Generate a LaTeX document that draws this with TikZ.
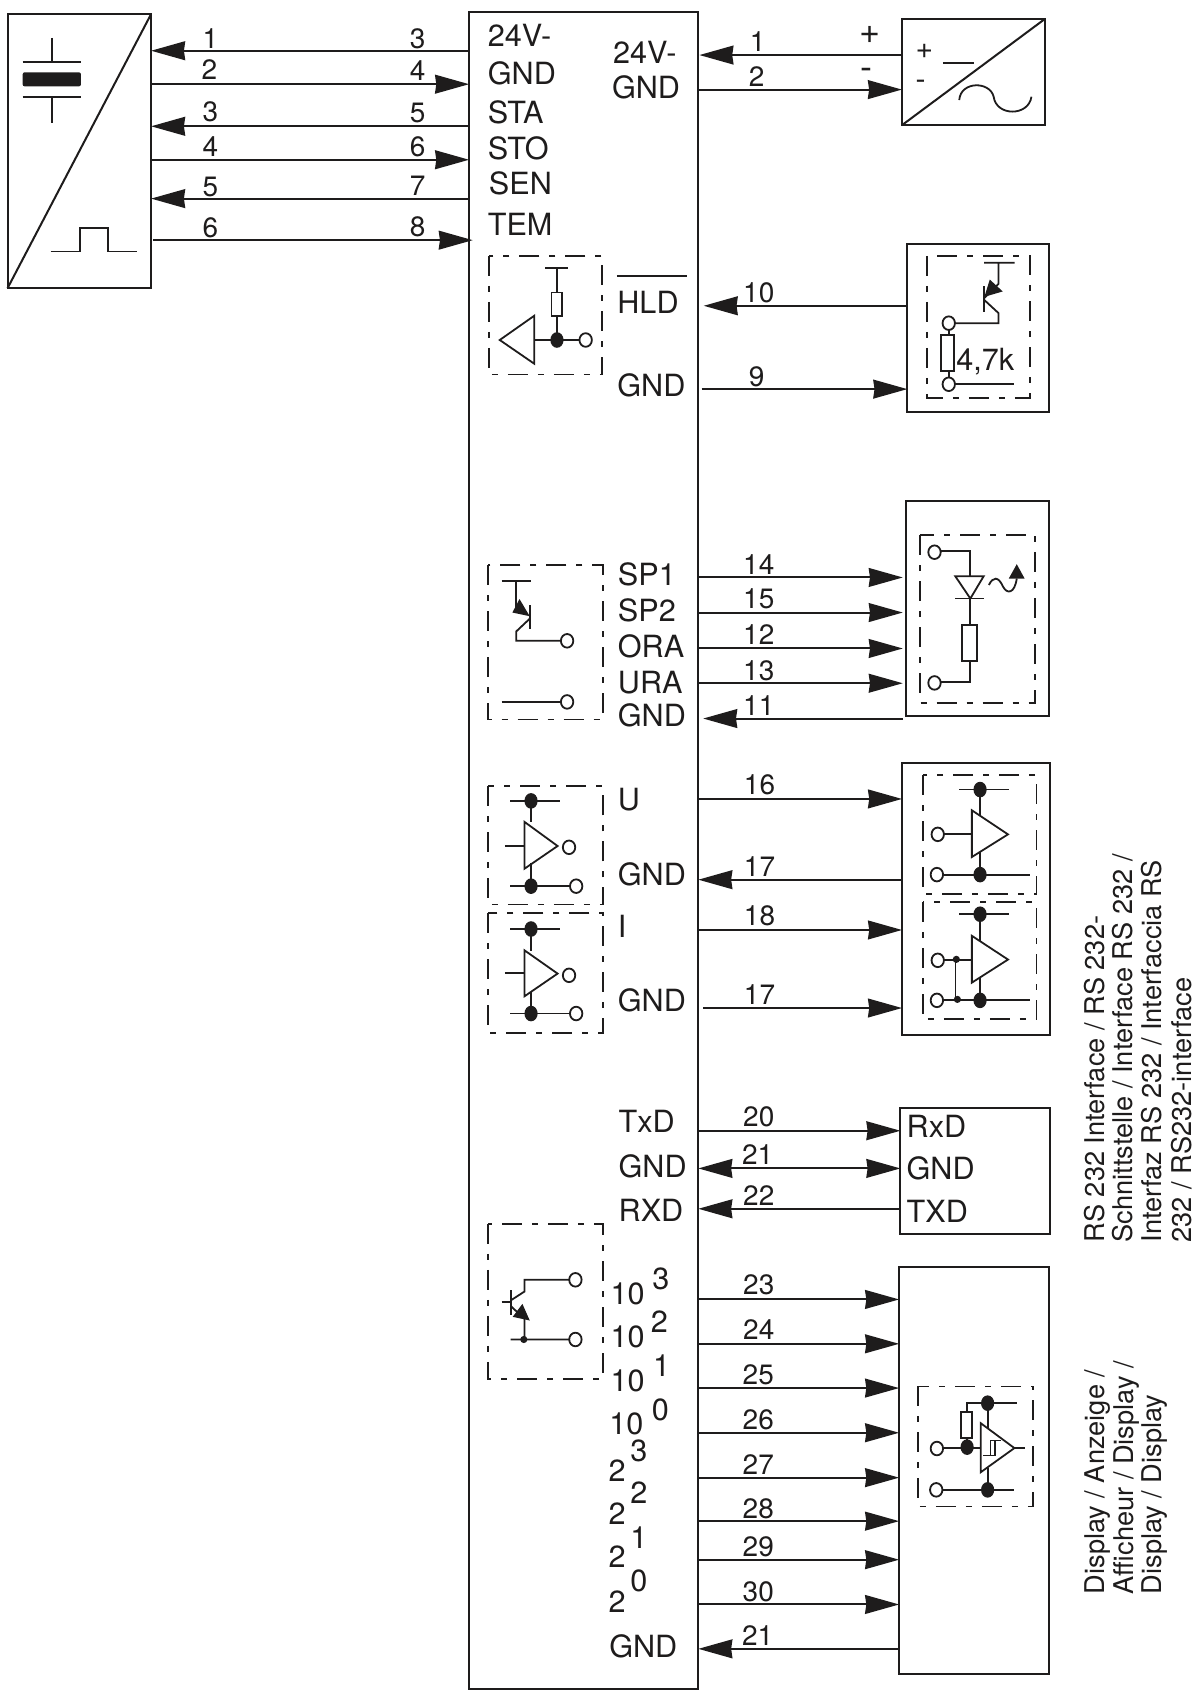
\documentclass[tikz,border=0pt]{standalone}
\usepackage{fontspec}
\setmainfont{TeX Gyre Heros}
\usetikzlibrary{arrows.meta}
\definecolor{ink}{HTML}{1E1C1C}
\newcommand\lab[4]{\node[lbl] (#1) at (#2,#3) {#4};}
\newcommand\wnum[4]{\node[numl] (#1) at (#2,#3) {#4};}
\newcommand\rlab[4]{\node[rotl] (#1) at (#2,#3) {#4};}
\newcommand\wire[4][]{\draw[wire,#1] (#2 |- 0,#4) -- (#3 |- 0,#4);}
\newcommand\bx[5]{\pgfmathsetmacro\bw{(#4-#2)*0.5397}\pgfmathsetmacro\bh{(#5-#3)*0.5397}%
  \node[boxn,minimum width=\bw pt,minimum height=\bh pt] (#1) at ({(#2+#4)/2},{(#3+#5)/2}) {};}
\newcommand\jdot[2]{\fill[ink] (#1,#2) ellipse [x radius=3.3pt,y radius=3.9pt];}
\newcommand\jsmall[2]{\fill[ink] (#1,#2) circle [radius=1.8pt];}
\newcommand\jring[2]{\draw[sym,fill=white] (#1,#2) ellipse [x radius=3.1pt,y radius=3.4pt];}
\newcommand\res[4]{\draw[sym,fill=white] (#1,#2) rectangle (#3,#4);}
\tikzset{
  lbl/.style={anchor=base west,inner sep=0pt,outer sep=0pt,yshift=-0.8pt,text=ink,font=\fontsize{15.3}{18}\selectfont},
  numl/.style={anchor=base,inner sep=0pt,outer sep=0pt,yshift=-0.5pt,text=ink,font=\fontsize{14}{16}\selectfont},
  signl/.style={anchor=base,inner sep=0pt,outer sep=0pt,text=ink,font=\fontsize{18}{20}\selectfont},
  signs/.style={anchor=base,inner sep=0pt,outer sep=0pt,text=ink,font=\fontsize{15}{17}\selectfont},
  rotl/.style={anchor=base west,rotate=90,inner sep=0pt,outer sep=0pt,text=ink,font=\fontsize{13.6}{16}\selectfont},
  boxn/.style={draw=ink,line width=1pt,inner sep=0pt,outer sep=0pt},
  wire/.style={draw=ink,line width=1pt,-{Stealth[length=17pt,width=9.4pt,inset=0.6pt]}},
  wirebi/.style={{Stealth[length=17pt,width=9.4pt,inset=0.6pt]}-{Stealth[length=17pt,width=9.4pt,inset=0.6pt]}},
  sym/.style={draw=ink,line width=0.9pt},
  dbox/.style={draw=ink,line width=0.9pt,dash pattern=on 10pt off 5pt on 3pt off 5pt},
}
\begin{document}
\begin{tikzpicture}[x=0.5397pt,y=-0.5397pt]
\useasboundingbox (0,0) rectangle (1108,1567.6);
% ---- boxes
\bx{src}{7}{13}{140}{267}
\bx{main}{434.6}{11}{647}{1564.5}
\bx{psu}{835.6}{17.6}{968}{116}
\bx{hold}{840.6}{226.4}{972}{381.5}
\bx{led}{839.7}{464}{972}{663}
\bx{ana}{835.7}{706.8}{973}{958.6}
\bx{rsb}{834.2}{1026.6}{973}{1143}
\bx{disp}{833}{1174}{971.5}{1550.8}
% ---- source symbol
\draw[sym,line width=1pt] (src.south west) -- (src.north east);
\draw[sym] (48,35) -- (48,57.5) (21,57.5) -- (75,57.5) (21,90) -- (75,90) (48,90) -- (48,114);
\fill[ink,rounded corners=1pt] (21,67) rectangle (75,80);
\draw[sym] (47,233) -- (74,233) -- (74,211) -- (100,211) -- (100,233) -- (127,233);
% ---- left wires
\wire{main.west}{src.east}{47}
\wire{src.east}{main.west}{78}
\wire{main.west}{src.east}{117}
\wire{src.east}{main.west}{148}
\wire{main.west}{src.east}{184}
\wire{142,0}{438,0}{222.5}
\wnum{na1}{195}{44}{1}\wnum{na2}{194}{73}{2}\wnum{na3}{195}{112}{3}\wnum{na4}{195}{143.6}{4}\wnum{na5}{195}{180.7}{5}\wnum{na6}{195}{218.7}{6}
\wnum{nb3}{387}{44}{3}\wnum{nb4}{387}{74}{4}\wnum{nb5}{387}{113}{5}\wnum{nb6}{387}{143.6}{6}\wnum{nb7}{387}{180}{7}\wnum{nb8}{387}{218}{8}
\lab{l24}{452}{42}{24V-}\lab{lg1}{452}{76.6}{GND}\lab{lsta}{452}{113}{STA}\lab{lsto}{452}{146}{STO}\lab{lsen}{453}{178.6}{SEN}\lab{ltem}{452}{217}{TEM}
% ---- power
\draw[sym,line width=1pt] (psu.south west) -- (psu.north east);
\wire{psu.west}{648,0}{51}
\wire{main.east}{psu.west}{83}
\wnum{np1}{702}{47}{1}\wnum{np2}{701}{79.4}{2}
\lab{lp24}{568}{57}{24V-}\lab{lpg}{567}{90}{GND}
\node[signl] (pplus) at (806,40) {+};
\node[signl] (pminus) at (803,74) {-};
\node[signs] (iplus) at (856.5,54.5) {+};
\node[signs] (iminus) at (853,83) {-};
\draw[sym] (873.5,58) -- (902.5,58);
\draw[sym] (888.7,92.7) .. controls (890,75) and (917,75) .. (920.6,89.6) .. controls (923,108) and (953,108) .. (955.6,89.6);
% ---- hold input
\draw[dbox] (452.7,237) rectangle (558,347);
\draw[sym] (505,248) -- (526,248) (516,248) -- (516,315);
\res{511}{271}{521}{292.5}
\draw[sym] (495,315) -- (537,315);
\draw[sym] (463,315) -- (495,292.5) -- (495,337) -- cycle;
\jdot{516}{315}\jring{542.6}{315}
\draw[draw=ink,line width=1pt] (571.5,256) -- (636.7,256);
\lab{lhld}{572}{289}{HLD}\lab{lg2}{572}{366}{GND}
\wire{hold.west}{652,0}{283.3}
\wire{650,0}{hold.west}{360.5}
\wnum{n10}{703}{279}{10}\wnum{n9}{701}{357}{9}
\draw[dbox] (858.6,237) rectangle (954,368.5);
\draw[sym] (911.7,243.4) -- (940,243.4) (925,243.4) -- (925,263) -- (912,276);
\draw[sym] (911.7,265) -- (911.7,289.5);
\fill[ink] (912,275) -- (917,259) -- (929,270) -- cycle;
\draw[sym] (912,278) -- (925,290) -- (925,299.4) -- (885,299.4);
\draw[sym] (879,305) -- (879,350) (885,355.6) -- (939,355.6);
\res{871.7}{310.5}{883.8}{344}
\jring{879}{299.4}\jring{879}{356}
\lab{lr}{886}{342}{4,7k}
% ---- switching outputs
\draw[dbox] (452.2,523.6) rectangle (558.5,666.6);
\draw[sym] (464.7,538.4) -- (492,538.4) (478.3,538.4) -- (478.3,562);
\draw[sym] (491.2,560.7) -- (491.2,583.2);
\fill[ink] (490.8,570.9) -- (474.7,567.5) -- (481.3,555) -- cycle;
\draw[sym] (491,573) -- (478.3,585) -- (478.3,593.7) -- (519,593.7);
\draw[sym] (464.7,650.3) -- (519,650.3);
\jring{525.4}{593.7}\jring{525.4}{650.3}
\lab{lsp1}{572.5}{540.6}{SP1}\lab{lsp2}{572.5}{574.6}{SP2}\lab{lora}{572.5}{608}{ORA}\lab{lura}{572.5}{641}{URA}\lab{lg3}{572.5}{672}{GND}
\wire{main.east}{836.4,0}{535}
\wire{main.east}{836.4,0}{567.5}
\wire{main.east}{836.4,0}{600.8}
\wire{main.east}{836.4,0}{633}
\wire{836.4,0}{651.5,0}{665.7}
\wnum{n14}{703}{531.3}{14}\wnum{n15}{703}{563}{15}\wnum{n12}{703}{596}{12}\wnum{n13}{703}{629.6}{13}\wnum{n11}{703}{661.7}{11}
\draw[dbox] (852.6,495.8) rectangle (959.2,651.2);
\draw[sym] (872,510.6) -- (899,510.6) -- (899,533.8) (899,554.5) -- (899,579) (899,612.6) -- (899,631.7) -- (872,631.7);
\draw[sym] (885,533.8) -- (911.4,533.8) -- (899,554.5) -- cycle;
\draw[sym] (885,554.5) -- (911.4,554.5);
\res{891.6}{579}{904.8}{612.6}
\jring{865.8}{511.6}\jring{865.8}{632.7}
\draw[sym] (916.2,542) .. controls (920,534) and (925,534) .. (929,543) .. controls (933,551) and (940,550) .. (942,536);
\fill[ink] (942,522.7) -- (949.3,536) -- (934.6,536) -- cycle;
% ---- analog left
\draw[dbox] (452.2,728.5) rectangle (558.5,838);
\draw[sym] (472.5,742) -- (519,742) (492,742) -- (492,762);
\draw[sym] (486,761.5) -- (516.6,783.8) -- (486,804.8) -- cycle;
\draw[sym] (467.7,784) -- (486,784) (492,800) -- (492,821) (472.5,821) -- (529,821);
\jdot{492}{742}\jdot{492}{821}\jring{527.2}{785}\jring{533.8}{821}
\draw[dbox] (452.2,845.9) rectangle (558.5,957);
\draw[sym] (472.5,860.7) -- (519,860.7) (492,860.7) -- (492,881);
\draw[sym] (486,880.5) -- (516.6,902) -- (486,923) -- cycle;
\draw[sym] (467.7,901.5) -- (486,901.5) (492,919) -- (492,939) (472.5,939) -- (529,939);
\jdot{492}{860.7}\jdot{492}{939}\jring{527.2}{903.6}\jring{533.8}{939}
\lab{lu}{572.5}{749}{U}\lab{lg4}{572.5}{818.7}{GND}\lab{li}{572.5}{867.5}{I}\lab{lg5}{572.5}{936}{GND}
\wire{main.east}{ana.west}{740.2}
\wire{ana.west}{main.east}{815}
\wire{main.east}{ana.west}{861.6}
\wire{651.5,0}{ana.west}{933.9}
\wnum{n16}{703.7}{735}{16}\wnum{n17}{703.7}{811.3}{17}\wnum{n18}{703.7}{856.7}{18}\wnum{n17b}{703.7}{929.9}{17}
% ---- analog right
\draw[dbox] (854.8,718.3) rectangle (960.3,827.9);
\draw[sym] (888.6,731.5) -- (935,731.5) (908,731.5) -- (908,756);
\draw[sym] (900.4,750.7) -- (933.9,773) -- (900.4,794) -- cycle;
\draw[sym] (874,773) -- (900.4,773) (908,789) -- (908,810.3) (874,810.3) -- (954,810.3);
\jdot{908}{731.5}\jdot{908}{810.3}\jring{868.8}{773}\jring{868}{810.3}
\draw[dbox] (854.8,836) rectangle (960.3,944.1);
\draw[sym] (888.6,847) -- (935,847) (908,847) -- (908,872);
\draw[sym] (900.4,867) -- (933.9,889) -- (900.4,910.4) -- cycle;
\draw[sym] (874,889.7) -- (900.4,889.7) (908,905) -- (908,926.8) (874,926.8) -- (954,926.8);
\draw[sym] (885.3,888.8) -- (885.3,925.9);
\jsmall{886}{888.8}\jsmall{887}{925.9}
\jdot{908}{847}\jdot{908}{926.8}\jring{868.8}{889.7}\jring{868}{926.8}
% ---- RS232
\lab{ltx}{573.2}{1048}{TxD}\lab{lg6}{573.2}{1089}{GND}\lab{lrx}{573.2}{1130}{RXD}
\wire{main.east}{rsb.west}{1047.6}
\wire[wirebi]{main.east}{rsb.west}{1082.5}
\wire{rsb.west}{main.east}{1119.9}
\wnum{n20}{703}{1043}{20}\wnum{n21}{702}{1078}{21}\wnum{n22}{703}{1116}{22}
\lab{rrx}{840}{1052}{RxD}\lab{rg}{840}{1091.5}{GND}\lab{rtx}{840}{1131.3}{TXD}
% ---- BCD outputs
\draw[dbox] (452.2,1133.8) rectangle (558.5,1277.4);
\draw[sym] (527,1185.7) -- (486,1185.7) -- (486,1196.5) -- (473.2,1204.8);
\draw[sym] (473.2,1195.5) -- (473.2,1218.7) (464.7,1206.4) -- (473.2,1206.4);
\draw[sym] (473.2,1210) -- (486,1222) -- (486,1241) (473,1241) -- (527,1241);
\fill[ink] (490.8,1223.4) -- (475,1220) -- (484,1208) -- cycle;
\jsmall{485.3}{1241}\jring{533.1}{1185.7}\jring{533.1}{1241}
\lab{d3}{565.8}{1207}{10}\lab{s3}{604.4}{1193}{3}
\lab{d2}{565.8}{1247}{10}\lab{s2}{603}{1233}{2}
\lab{d1}{565.8}{1287.3}{10}\lab{s1}{605}{1274}{1}
\lab{d0}{564.5}{1327.5}{10}\lab{s0}{604}{1314.5}{0}
\lab{b3}{563.8}{1370.7}{2}\lab{t3}{584}{1352.5}{3}
\lab{b2}{563.8}{1410.8}{2}\lab{t2}{584}{1391.7}{2}
\lab{b1}{563.8}{1450.4}{2}\lab{t1}{584}{1433}{1}
\lab{b0}{563.8}{1492}{2}\lab{t0}{584}{1473}{0}
\lab{lg7}{564.5}{1533.8}{GND}
\wire{main.east}{disp.west}{1203.9}
\wire{main.east}{disp.west}{1245}
\wire{main.east}{disp.west}{1286}
\wire{main.east}{disp.west}{1327.4}
\wire{main.east}{disp.west}{1369}
\wire{main.east}{disp.west}{1409.3}
\wire{main.east}{disp.west}{1445}
\wire{main.east}{disp.west}{1486.5}
\wire{disp.west}{main.east}{1527.6}
\wnum{n23}{703}{1198.6}{23}\wnum{n24}{703}{1240.4}{24}\wnum{n25}{702.5}{1282}{25}\wnum{n26}{702.5}{1323}{26}\wnum{n27}{702.5}{1364.8}{27}\wnum{n28}{702.5}{1405.6}{28}\wnum{n29}{702.5}{1441}{29}\wnum{n30}{702.5}{1482.8}{30}\wnum{n21b}{702}{1523.6}{21}
% ---- display symbol
\draw[dbox] (850.5,1284.5) rectangle (957.4,1395.7);
\draw[sym] (896,1308) -- (896,1300) -- (942,1300) (896,1332.4) -- (896,1340.7) (874,1341.6) -- (908.6,1341.6) (939.8,1341.6) -- (949.8,1341.6);
\draw[sym] (915,1300) -- (915,1323) (915,1360) -- (915,1380.3) (873,1380.3) -- (939.8,1380.3);
\res{890}{1308}{900.4}{1332.4}
\draw[sym] (908.6,1318.5) -- (939.8,1341.6) -- (908.6,1364) -- cycle;
\draw[sym,line width=.7pt] (911,1348.4) -- (921.9,1348.4) -- (921.9,1334.5) -- (927,1334.5) (917.6,1348.4) -- (917.6,1334.5) -- (927,1334.5);
\jdot{896}{1340.7}\jdot{915}{1300}\jdot{915}{1380.3}\jring{868}{1342}\jring{867.4}{1380.3}
% ---- side captions
\rlab{c1}{1023}{1151}{RS 232 Interface / RS 232-}
\rlab{c2}{1049.5}{1151}{Schnittstelle / Interface RS 232 /}
\rlab{c3}{1076.5}{1151}{Interfaz RS 232 / Interfaccia RS}
\rlab{c4}{1103.5}{1151}{232 / RS232-interface}
\rlab{e1}{1023}{1477}{Display / Anzeige /}
\rlab{e2}{1050}{1477}{Afficheur / Display /}
\rlab{e3}{1076.5}{1477}{Display / Display}
\end{tikzpicture}
\end{document}
